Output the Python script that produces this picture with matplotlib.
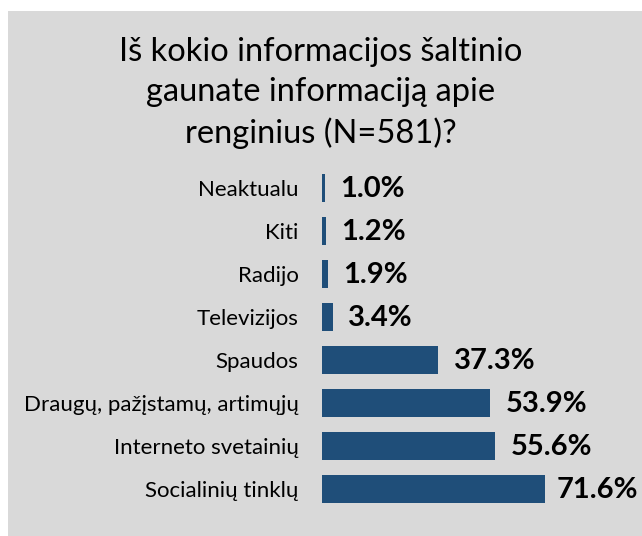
import matplotlib.pyplot as plt
from matplotlib.patches import Rectangle

categories = ["Neaktualu", "Kiti", "Radijo", "Televizijos", "Spaudos",
              "Draugų, pažįstamų, artimųjų", "Interneto svetainių", "Socialinių tinklų"]
values = [1.0, 1.2, 1.9, 3.4, 37.3, 53.9, 55.6, 71.6]
title = "Iš kokio informacijos šaltinio\ngaunate informaciją apie\nrenginius (N=581)?"

plt.rcParams['font.family'] = ['Lato', 'DejaVu Sans']

W, H = 642, 536
fig = plt.figure(figsize=(W / 100, H / 100), dpi=100)
fig.patch.set_facecolor('white')
# gray panel
fig.patches.append(Rectangle((8 / W, 0), 1 - 8 / W, 1 - 11 / H, transform=fig.transFigure,
                             facecolor='#d9d9d9', edgecolor='none', zorder=-5))

fig.text(321 / W, 1 - 93 / H, title, ha='center', va='center', fontsize=23.5,
         linespacing=1.42, color='black')

ax = fig.add_axes([322 / W, 1 - 510.5 / H, 312 / W, 344 / H])
ax.set_facecolor('none')
ax.set_zorder(2)
y = list(range(len(categories)))
ax.barh(y, values, height=0.65, color='#1f4e79')
ax.set_xlim(0, 100)
ax.set_ylim(len(categories) - 0.5, -0.5)
ax.set_yticks(y)
ax.set_yticklabels(categories, fontsize=16)
ax.tick_params(axis='y', length=0, pad=17)
ax.set_xticks([])
for s in ax.spines.values():
    s.set_visible(False)

labels = []
for yi, v in zip(y, values):
    t = ax.annotate(f"{v:.1f}%", (v, yi), xytext=(11, -1), textcoords='offset points',
                    ha='left', va='center', fontsize=21, fontweight='bold',
                    annotation_clip=False)
    labels.append(t)

# keep labels inside the picture, as the original does
fig.canvas.draw()
r = fig.canvas.get_renderer()
for t in labels:
    bb = t.get_window_extent(r)
    if bb.x1 > W - 4:
        dx = (bb.x1 - (W - 4)) * 72 / 100
        ox, oy = t.xyann
        t.xyann = (ox - dx, oy)

fig.savefig('out.png', dpi=100)
